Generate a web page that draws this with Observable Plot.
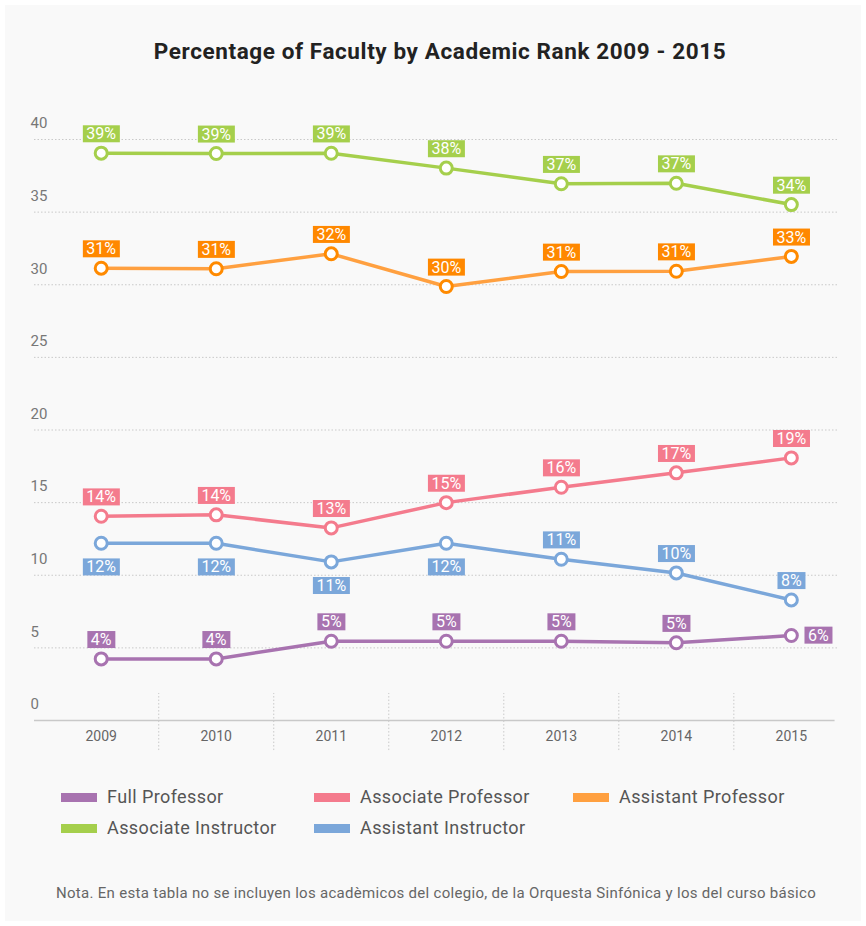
<!DOCTYPE html>
<html>
<head>
<meta charset="utf-8">
<script src="https://cdn.jsdelivr.net/npm/d3@7"></script>
<script src="https://cdn.jsdelivr.net/npm/@observablehq/plot@0.6"></script>
<style>
  body { margin: 0; background: #ffffff; font-family: Roboto, "Noto Sans", sans-serif; }
  #card { position: absolute; left: 5px; top: 5px; width: 856px; height: 916px; background: #f9f9f9; }
  #title { position: absolute; left: 0; top: 37px; width: 880px; text-align: center; font-weight: 700; font-size: 22.5px; line-height: 28px; color: #222; letter-spacing: 0.6px; }
  #chart { position: absolute; left: 0; top: 100px; }
  .leg { position: absolute; display: flex; align-items: center; font-size: 18px; color: #555; line-height: 20px; white-space: nowrap; letter-spacing: 0.4px; }
  .leg .sw { width: 36px; height: 9px; margin-right: 10px; }
  #caption { position: absolute; left: 0; top: 883px; width: 872px; text-align: center; font-size: 15px; color: #666; line-height: 20px; letter-spacing: 0.3px; }
</style>
</head>
<body>
<div id="card"></div>
<div id="title">Percentage of Faculty by Academic Rank 2009 - 2015</div>
<div id="chart"></div>
<div id="legend"></div>
<div id="caption">Nota. En esta tabla no se incluyen los acadèmicos del colegio, de la Orquesta Sinfónica y los del curso básico</div>
<script>
// ---- data ----
const years = [2009, 2010, 2011, 2012, 2013, 2014, 2015];
const seriesNames = ["Full Professor", "Associate Professor", "Assistant Professor", "Associate Instructor", "Assistant Instructor"];
const fullProfessor = [4.24, 4.24, 5.46, 5.46, 5.46, 5.35, 5.85];
const fullProfessorLabels = ["4%", "4%", "5%", "5%", "5%", "5%", "6%"];
const associateProfessor = [14.06, 14.16, 13.26, 15.0, 16.06, 17.05, 18.08];
const associateProfessorLabels = ["14%", "14%", "13%", "15%", "16%", "17%", "19%"];
const assistantProfessor = [31.14, 31.1, 32.13, 29.88, 30.91, 30.93, 31.95];
const assistantProfessorLabels = ["31%", "31%", "32%", "30%", "31%", "31%", "33%"];
const associateInstructor = [39.06, 39.04, 39.05, 38.03, 36.95, 36.99, 35.52];
const associateInstructorLabels = ["39%", "39%", "39%", "38%", "37%", "37%", "34%"];
const assistantInstructor = [12.2, 12.2, 10.92, 12.2, 11.1, 10.16, 8.3];
const assistantInstructorLabels = ["12%", "12%", "11%", "12%", "11%", "10%", "8%"];
const yTicks = [0, 5, 10, 15, 20, 25, 30, 35, 40];

// ---- styles ----
const lineColors = ["#a873b0", "#f47b8d", "#ffa040", "#a5cf4c", "#7ba7da"];
const pointColors = ["#a873b0", "#f47b8d", "#ff8a00", "#a5cf4c", "#7ba7da"];
const tagColors = ["#a873b0", "#f47b8d", "#ff8800", "#a5cf4c", "#7ba7da"];

const valuesBySeries = [fullProfessor, associateProfessor, assistantProfessor, associateInstructor, assistantInstructor];
const labelsBySeries = [fullProfessorLabels, associateProfessorLabels, assistantProfessorLabels, associateInstructorLabels, assistantInstructorLabels];

const rows = [];
seriesNames.forEach((s, si) => years.forEach((yr, i) => {
  rows.push({series: s, si, year: yr, value: valuesBySeries[si][i], label: labelsBySeries[si][i], idx: i});
}));

// label placement rule
function side(d) {
  if (d.series === "Full Professor" && d.idx === years.length - 1) return "right";
  if (d.series === "Assistant Instructor" && associateProfessor[d.idx] - d.value < 3) return "below";
  return "above";
}
const above = rows.filter(d => side(d) === "above");
const below = rows.filter(d => side(d) === "below");
const right = rows.filter(d => side(d) === "right");

const mids = years.slice(1).map(y => y - 0.5);
const gridColor = "#c9c9c9";

const plot = Plot.plot({
  width: 866,
  height: 665,
  marginLeft: 34,
  marginRight: 28,
  marginTop: 39,
  marginBottom: 45,
  style: {background: "transparent", fontFamily: "Roboto, 'Noto Sans', sans-serif"},
  x: {type: "linear", domain: [2008.42, 2015.41], axis: null},
  y: {domain: [0, 40], axis: null},
  color: {domain: seriesNames, range: lineColors},
  marks: [
    Plot.ruleY(yTicks.filter(v => v > 0), {y: d => d, stroke: gridColor, strokeDasharray: "1.5,2", strokeWidth: 1}),
    Plot.ruleY([0], {y: d => d, stroke: gridColor, strokeWidth: 1.5, x1: 2008.42, x2: 2015.38}),
    Plot.ruleX(mids, {x: d => d, y1: -2.07, y2: 1.86, stroke: gridColor, strokeDasharray: "1.5,2", clip: false}),
    Plot.text(yTicks, {y: d => d, text: d => String(d), frameAnchor: "left", textAnchor: "start", dx: -4, dy: -16, fontSize: 15, fill: "#777"}),
    Plot.text(years, {x: d => d, text: d => String(d), frameAnchor: "bottom", dy: 20, fontSize: 14, fill: "#666"}),
    Plot.line(rows, {x: "year", y: "value", z: "series", stroke: "series", strokeWidth: 3.5, strokeLinejoin: "round", curve: "linear"}),
    Plot.dot(rows, {x: "year", y: "value", r: 6, fill: "white", stroke: d => pointColors[d.si], strokeWidth: 3}),
    Plot.text(above, {x: "year", y: "value", text: "label", dy: -19, fill: "white", fontSize: 16}),
    Plot.text(below, {x: "year", y: "value", text: "label", dy: 24, fill: "white", fontSize: 16}),
    Plot.text(right, {x: "year", y: "value", text: "label", dx: 27, dy: 0, fill: "white", fontSize: 16})
  ]
});
document.getElementById("chart").appendChild(plot);

// label boxes behind the tag texts (the last three text marks)
const textGroups = plot.querySelectorAll('g[aria-label="text"]');
const tagSets = [above, below, right];
tagSets.forEach((data, k) => {
  const g = textGroups[textGroups.length - 3 + k];
  if (!g) return;
  const texts = g.querySelectorAll("text");
  texts.forEach((t, i) => {
    const b = t.getBBox();
    const r = document.createElementNS("http://www.w3.org/2000/svg", "rect");
    r.setAttribute("x", b.x - 3.5);
    r.setAttribute("y", b.y + b.height / 2 - 8.5);
    r.setAttribute("width", b.width + 7);
    r.setAttribute("height", 17);
    r.setAttribute("fill", tagColors[data[i].si]);
    const tr = t.getAttribute("transform");
    if (tr) r.setAttribute("transform", tr);
    g.insertBefore(r, t);
  });
});

// legend
const legendPos = [[61, 787], [314, 787], [573, 787], [61, 818], [314, 818]];
const legend = document.getElementById("legend");
seriesNames.forEach((s, i) => {
  const el = document.createElement("div");
  el.className = "leg";
  el.style.left = legendPos[i][0] + "px";
  el.style.top = legendPos[i][1] + "px";
  el.innerHTML = `<span class="sw" style="background:${lineColors[i]}"></span><span>${s}</span>`;
  legend.appendChild(el);
});
</script>
</body>
</html>
